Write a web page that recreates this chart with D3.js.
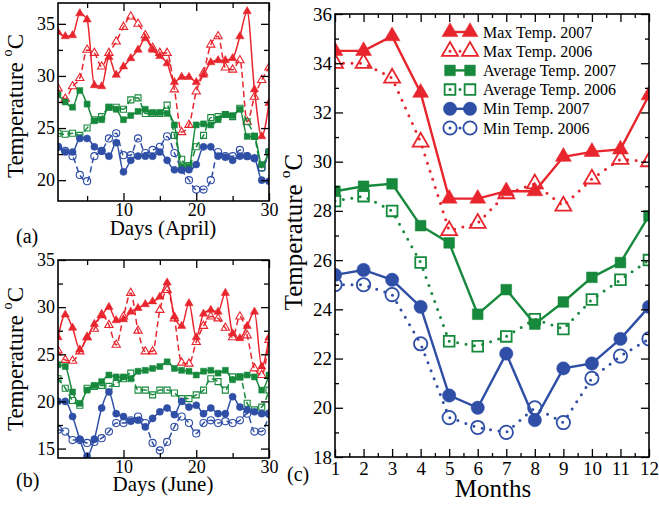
<!DOCTYPE html>
<html>
<head>
  <meta charset="utf-8">
  <title>Temperature 2006 / 2007</title>
  <style>
    body { margin: 0; background: #fff; }
    text { font-family: "Liberation Serif", "Times New Roman", serif; fill: #000; }
  </style>
  <script src="https://cdn.jsdelivr.net/npm/d3@7"></script>
</head>
<body>
<script>
  // ---- data ----
  var days = [1, 2, 3, 4, 5, 6, 7, 8, 9, 10, 11, 12, 13, 14, 15,
              16, 17, 18, 19, 20, 21, 22, 23, 24, 25, 26, 27, 28, 29, 30];
  var months = [1, 2, 3, 4, 5, 6, 7, 8, 9, 10, 11, 12];

  // (a) April
  var aprMax07 = [34.2, 33.8, 33.9, 36.0, 35.4, 29.1, 29.0, 31.8, 30.1, 30.9, 31.7, 32.5, 33.6, 32.5, 31.9,
                  31.2, 29.4, 29.9, 29.9, 29.4, 30.1, 31.3, 31.5, 31.5, 31.7, 33.8, 36.2, 28.7, 24.2, 27.4];
  var aprMax06 = [28.8, 27.8, 29.0, 29.8, 32.5, 32.2, 30.9, 32.2, 33.3, 34.7, 35.7, 35.0, 33.9, 32.7, 32.2,
                  32.2, 28.7, 24.6, 25.3, 28.5, 30.3, 33.0, 33.8, 30.8, 30.6, 31.5, 25.6, 28.0, 29.6, 30.8];
  var aprAvg07 = [28.2, 27.5, 27.0, 28.6, 27.3, 25.7, 25.8, 27.0, 26.8, 25.8, 26.2, 26.6, 26.8, 26.5, 26.5,
                  26.4, 25.3, 21.3, 21.3, 25.3, 25.4, 25.3, 25.8, 26.3, 26.2, 26.8, 24.2, 24.2, 21.5, 22.7];
  var aprAvg06 = [24.5, 24.4, 24.5, 24.3, 25.0, 25.8, 26.1, 27.0, 27.0, 26.8, 27.7, 27.9, 26.4, 26.4, 26.4,
                  27.2, 24.3, 22.0, 21.4, 23.2, 24.3, 26.0, 26.1, 26.3, 26.1, 26.9, 25.6, 24.2, 21.2, 22.7];
  var aprMin07 = [23.2, 22.7, 22.7, 24.0, 24.0, 23.2, 22.8, 22.3, 23.6, 20.8, 21.9, 22.3, 22.3, 22.3, 22.7,
                  21.9, 21.0, 21.0, 21.0, 21.5, 23.2, 23.2, 22.3, 22.2, 21.9, 22.3, 22.3, 22.1, 20.0, 19.9];
  var aprMin06 = [23.2, 22.8, 22.3, 20.5, 19.9, 22.3, 22.8, 24.0, 24.5, 22.4, 22.4, 24.0, 22.6, 22.9, 23.2,
                  24.2, 22.6, 21.0, 20.0, 19.1, 19.1, 20.0, 22.7, 22.3, 22.3, 22.9, 22.3, 22.1, 21.2, 22.7];

  // (b) June
  var junMax07 = [26.8, 29.2, 27.8, 25.5, 26.8, 28.2, 29.1, 30.0, 28.6, 28.7, 29.5, 29.9, 30.3, 30.6, 31.1,
                  32.6, 29.0, 28.0, 30.4, 26.8, 29.3, 29.7, 29.5, 31.5, 27.2, 26.7, 28.0, 29.5, 23.7, 26.8];
  var junMax06 = [25.4, 24.4, 24.3, 25.3, 26.8, 27.7, 29.2, 28.1, 26.0, 29.0, 31.5, 27.5, 25.3, 25.3, 29.7,
                  31.8, 28.8, 24.1, 24.0, 26.3, 28.0, 29.0, 28.8, 27.8, 26.8, 29.0, 27.0, 23.5, 22.8, 26.5];
  var junAvg07 = [23.9, 23.7, 21.0, 19.8, 21.2, 21.7, 22.1, 22.8, 22.6, 22.6, 22.4, 23.2, 23.3, 23.5, 23.7,
                  24.2, 23.5, 23.3, 23.2, 22.8, 23.2, 23.3, 23.0, 23.3, 22.3, 22.6, 22.8, 22.6, 21.2, 22.8];
  var junAvg06 = [22.4, 21.4, 20.1, 19.6, 21.4, 21.6, 21.7, 21.6, 21.9, 22.4, 23.0, 21.2, 21.2, 20.7, 21.2,
                  21.2, 20.9, 20.3, 20.3, 20.7, 21.2, 22.4, 22.1, 21.2, 22.6, 22.6, 19.8, 19.1, 19.4, 21.2];
  var junMin07 = [20.0, 20.0, 18.4, 16.0, 14.2, 16.0, 19.3, 21.0, 18.7, 18.4, 17.9, 18.0, 17.3, 18.2, 18.9,
                  19.3, 18.6, 20.0, 19.4, 19.6, 18.7, 19.3, 18.7, 18.7, 20.5, 19.4, 19.1, 18.9, 18.7, 18.7];
  var junMin06 = [17.0, 16.8, 15.9, 15.9, 15.6, 15.7, 16.1, 16.8, 17.7, 17.7, 18.0, 18.4, 17.7, 15.6, 14.8,
                  15.7, 17.3, 18.4, 17.7, 16.6, 17.7, 18.0, 17.7, 17.9, 17.7, 18.0, 18.7, 16.8, 16.8, 18.7];

  // (c) monthly
  var monMax07 = [34.5, 34.5, 35.1, 32.8, 28.5, 28.5, 28.8, 28.8, 30.2, 30.4, 30.5, 32.7];
  var monMax06 = [34.0, 34.0, 33.4, 30.8, 27.2, 27.5, 28.7, 29.1, 28.2, 29.3, 30.1, 30.0];
  var monAvg07 = [28.8, 29.0, 29.1, 27.4, 26.7, 23.8, 24.8, 23.4, 24.3, 25.3, 25.9, 27.8];
  var monAvg06 = [28.4, 28.6, 28.0, 25.9, 22.7, 22.5, 22.9, 23.6, 23.2, 24.4, 25.2, 26.0];
  var monMin07 = [25.4, 25.6, 25.2, 24.1, 20.5, 20.0, 22.2, 19.5, 21.6, 21.8, 22.8, 24.1];
  var monMin06 = [25.0, 25.0, 24.6, 22.6, 19.6, 19.2, 19.0, 20.0, 19.4, 21.2, 22.1, 22.8];

  var legendLabels = ["Max Temp. 2007", "Max Temp. 2006", "Average Temp. 2007",
                      "Average Temp. 2006", "Min Temp. 2007", "Min Temp. 2006"];

  var red = "#e8252d", green = "#17893c", blue = "#2f4ea6";

  // style of the six series, in legend order
  var styles = [
    { color: red,   shape: d3.symbolTriangle, fill: true,  y07: true },
    { color: red,   shape: d3.symbolTriangle, fill: false, y07: false },
    { color: green, shape: d3.symbolSquare,   fill: true,  y07: true },
    { color: green, shape: d3.symbolSquare,   fill: false, y07: false },
    { color: blue,  shape: d3.symbolCircle,   fill: true,  y07: true },
    { color: blue,  shape: d3.symbolCircle,   fill: false, y07: false }
  ];

  function shapeIndex(s) {
    return s === d3.symbolTriangle ? 0 : s === d3.symbolSquare ? 1 : 2;
  }

  var svg = d3.select("body").append("svg")
    .attr("width", 659)
    .attr("height", 505);

  var clipId = 0;

  function panel(o) {
    var x = d3.scaleLinear().domain(o.xd).range([o.l, o.r]);
    var y = d3.scaleLinear().domain(o.yd).range([o.b, o.t]);
    var g = svg.append("g");

    var id = "clip" + (clipId++);
    g.append("clipPath").attr("id", id)
      .append("rect")
      .attr("x", o.l).attr("y", o.t)
      .attr("width", o.r - o.l).attr("height", o.b - o.t);

    var plot = g.append("g").attr("clip-path", "url(#" + id + ")");

    // 2006 first, then 2007 on top
    [1, 3, 5, 0, 2, 4].forEach(function (k) {
      var st = styles[k];
      var vals = o.series[k];
      var line = d3.line()
        .x(function (d, i) { return x(o.xs[i]); })
        .y(function (d) { return y(d); })
        .curve(o.curve);

      var p = plot.append("path")
        .datum(vals)
        .attr("d", line)
        .attr("fill", "none")
        .attr("stroke", st.color)
        .attr("stroke-width", st.y07 ? o.lw : o.lw2);
      if (!st.y07) {
        p.attr("stroke-dasharray", o.dash).attr("stroke-linecap", o.cap);
      }

      plot.append("g").selectAll("path")
        .data(vals)
        .enter().append("path")
        .attr("transform", function (d, i) { return "translate(" + x(o.xs[i]) + "," + y(d) + ")"; })
        .attr("d", d3.symbol().type(st.shape).size(o.msize[shapeIndex(st.shape)]))
        .attr("fill", st.fill ? st.color : "none")
        .attr("stroke", st.color)
        .attr("stroke-width", st.fill ? 0.5 : o.mw);
    });

    // axes: ticks pointing inward on all four sides
    function styleAxis(a) {
      a.select(".domain").remove();
      a.selectAll("line").attr("stroke", "#000").attr("stroke-width", 1.3);
      a.selectAll("text").attr("font-family", "Liberation Serif, serif")
        .attr("font-size", o.tickFont).attr("fill", "#000");
    }

    var fmtNone = function () { return ""; };

    styleAxis(g.append("g").attr("transform", "translate(0," + o.b + ")")
      .call(d3.axisBottom(x).tickValues(o.xMajor).tickSizeInner(-o.major).tickSizeOuter(0)
        .tickPadding(o.xPad).tickFormat(d3.format("d"))));
    styleAxis(g.append("g").attr("transform", "translate(0," + o.b + ")")
      .call(d3.axisBottom(x).tickValues(o.xMinor).tickSizeInner(-o.minor).tickSizeOuter(0).tickFormat(fmtNone)));
    styleAxis(g.append("g").attr("transform", "translate(0," + o.t + ")")
      .call(d3.axisTop(x).tickValues(o.xMajor).tickSizeInner(-o.major).tickSizeOuter(0).tickFormat(fmtNone)));
    styleAxis(g.append("g").attr("transform", "translate(0," + o.t + ")")
      .call(d3.axisTop(x).tickValues(o.xMinor).tickSizeInner(-o.minor).tickSizeOuter(0).tickFormat(fmtNone)));

    styleAxis(g.append("g").attr("transform", "translate(" + o.l + ",0)")
      .call(d3.axisLeft(y).tickValues(o.yMajor).tickSizeInner(-o.major).tickSizeOuter(0)
        .tickPadding(o.yPad).tickFormat(d3.format("d"))));
    styleAxis(g.append("g").attr("transform", "translate(" + o.l + ",0)")
      .call(d3.axisLeft(y).tickValues(o.yMinor).tickSizeInner(-o.minor).tickSizeOuter(0).tickFormat(fmtNone)));
    styleAxis(g.append("g").attr("transform", "translate(" + o.r + ",0)")
      .call(d3.axisRight(y).tickValues(o.yMajor).tickSizeInner(-o.major).tickSizeOuter(0).tickFormat(fmtNone)));
    styleAxis(g.append("g").attr("transform", "translate(" + o.r + ",0)")
      .call(d3.axisRight(y).tickValues(o.yMinor).tickSizeInner(-o.minor).tickSizeOuter(0).tickFormat(fmtNone)));

    // frame
    g.append("rect")
      .attr("x", o.l).attr("y", o.t)
      .attr("width", o.r - o.l).attr("height", o.b - o.t)
      .attr("fill", "none").attr("stroke", "#000").attr("stroke-width", 1.6);

    // y title with superscript o
    var yt = g.append("text")
      .attr("transform", "translate(" + o.yTitle[0] + "," + o.yTitle[1] + ") rotate(-90)")
      .attr("text-anchor", "middle")
      .attr("font-size", o.yTitle[2]);
    yt.append("tspan").text("Temperature ");
    yt.append("tspan").attr("font-size", "0.62em").attr("dy", "-0.75em").text("o");
    yt.append("tspan").attr("dy", "0.465em").text("C");

    g.append("text")
      .attr("x", o.xTitle[0]).attr("y", o.xTitle[1])
      .attr("text-anchor", "middle")
      .attr("font-size", o.xTitle[2])
      .text(o.xTitle[3]);

    g.append("text")
      .attr("x", o.tag[0]).attr("y", o.tag[1])
      .attr("font-size", 20)
      .text(o.tag[2]);

    return { x: x, y: y, g: g };
  }

  var small = {
    xs: days, xd: [1, 30], l: 58, r: 269,
    curve: d3.curveMonotoneX, lw: 1.5, lw2: 1.5, dash: "6,3.5", cap: "butt",
    msize: [30, 36, 40], mw: 1.1,
    xMajor: [10, 20, 30], xMinor: [5, 15, 25],
    major: 8, minor: 5, tickFont: 18, xPad: 2, yPad: 3
  };

  panel(Object.assign({}, small, {
    t: 3, b: 201, yd: [18, 37],
    yMajor: [20, 25, 30, 35], yMinor: [22.5, 27.5, 32.5],
    series: [aprMax07, aprMax06, aprAvg07, aprAvg06, aprMin07, aprMin06],
    yTitle: [23, 106, 23], xTitle: [163, 235, 21, "Days (April)"], tag: [16, 243, "(a)"]
  }));

  panel(Object.assign({}, small, {
    t: 260, b: 458, yd: [14, 35],
    yMajor: [15, 20, 25, 30, 35], yMinor: [17.5, 22.5, 27.5, 32.5],
    series: [junMax07, junMax06, junAvg07, junAvg06, junMin07, junMin06],
    yTitle: [23, 359, 23], xTitle: [163, 491, 21, "Days (June)"], tag: [16, 487, "(b)"]
  }));

  var pc = panel({
    xs: months, xd: [1, 12], l: 335, r: 649, t: 14, b: 457, yd: [18, 36],
    curve: d3.curveLinear, lw: 2.4, lw2: 3, dash: "0,8.5", cap: "round",
    msize: [110, 115, 140], mw: 1.8,
    xMajor: months, xMinor: [1.5, 2.5, 3.5, 4.5, 5.5, 6.5, 7.5, 8.5, 9.5, 10.5, 11.5],
    yMajor: [18, 20, 22, 24, 26, 28, 30, 32, 34, 36], yMinor: [19, 21, 23, 25, 27, 29, 31, 33, 35],
    major: 8, minor: 4, tickFont: 19, xPad: 5, yPad: 3,
    series: [monMax07, monMax06, monAvg07, monAvg06, monMin07, monMin06],
    yTitle: [302, 232, 25], xTitle: [493, 497, 25, "Months"], tag: [287, 481, "(c)"]
  });

  // legend of panel (c)
  var sizes = [110, 115, 140];
  var leg = pc.g.append("g");
  legendLabels.forEach(function (lab, i) {
    var st = styles[i];
    var cy = 32 + i * 19.2;
    var sz = sizes[shapeIndex(st.shape)];
    var ln = leg.append("line")
      .attr("y1", cy).attr("y2", cy)
      .attr("stroke", st.color);
    if (st.y07) {
      ln.attr("x1", 450).attr("x2", 470).attr("stroke-width", 2.4);
    } else {
      ln.attr("x1", 450).attr("x2", 464).attr("stroke-width", 3)
        .attr("stroke-dasharray", "0,10").attr("stroke-linecap", "round");
    }
    [450, 470].forEach(function (cx) {
      leg.append("path")
        .attr("transform", "translate(" + cx + "," + cy + ")")
        .attr("d", d3.symbol().type(st.shape).size(sz))
        .attr("fill", st.fill ? st.color : "none")
        .attr("stroke", st.color)
        .attr("stroke-width", st.fill ? 0.5 : 1.8);
    });
    leg.append("text")
      .attr("x", 483).attr("y", cy + 5.5)
      .attr("font-size", 16)
      .text(lab);
  });
</script>
</body>
</html>
